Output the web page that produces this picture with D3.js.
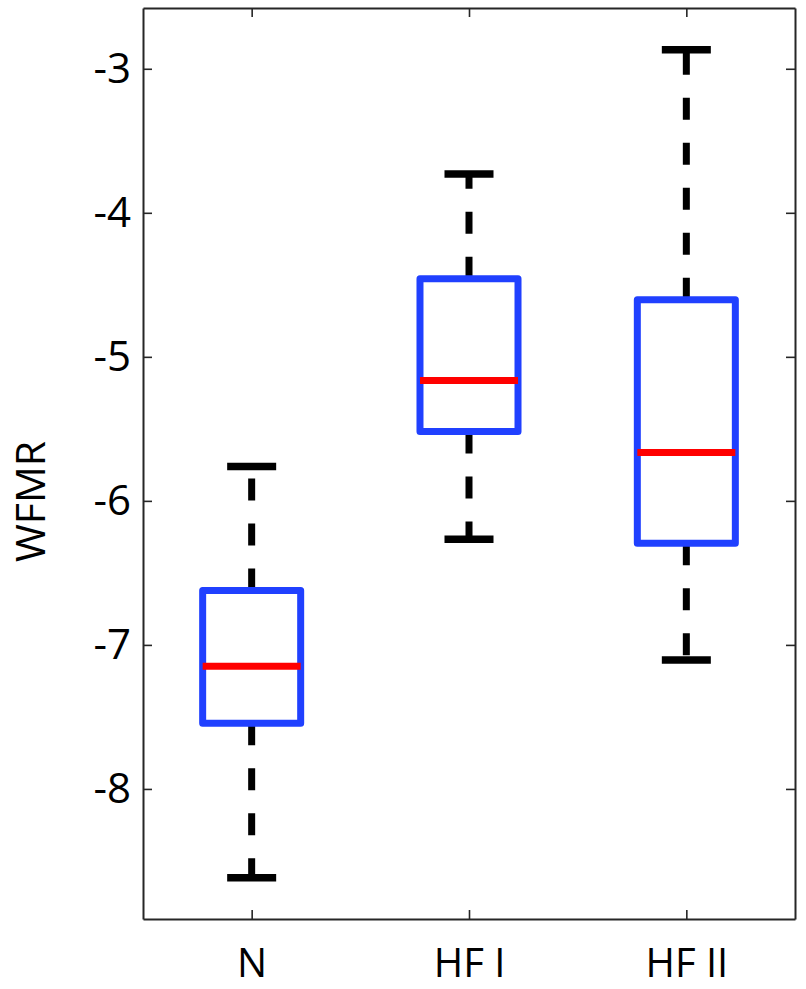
<!DOCTYPE html>
<html>
<head>
<meta charset="utf-8">
<script src="https://cdn.jsdelivr.net/npm/d3@7"></script>
<style>
    body { margin: 0; background: #fff; }
    svg text { font-family: "Open Sans", sans-serif; fill: #000; }
</style>
</head>
<body>
<div id="chart"></div>
<script>
// box plot values
const categories = ["N", "HF I", "HF II"];
const whisker_low = [-8.616, -6.266, -7.104];
const q1 = [-7.544, -5.519, -6.294];
const medians = [-7.148, -5.165, -5.664];
const q3 = [-6.623, -4.458, -4.604];
const whisker_high = [-5.762, -3.731, -2.868];
const y_ticks = [-8, -7, -6, -5, -4, -3];

const width = 806, height = 989;
const margin = {top: 8, right: 11, bottom: 70, left: 143};

const svg = d3.select("#chart")
    .append("svg")
    .attr("width", width)
    .attr("height", height);

const x = d3.scaleLinear()
    .domain([0.5, categories.length + 0.5])
    .range([margin.left, width - margin.right]);

const y = d3.scaleLinear()
    .domain([-8.903, -2.578])
    .range([height - margin.bottom, margin.top]);

const box_half = 0.2255;   // half box width, x units
const cap_half = box_half / 2;

const rows = categories.map(function (c, i) {
    return {
        "i": i + 1,
        "name": c,
        "lo": whisker_low[i],
        "q1": q1[i],
        "med": medians[i],
        "q3": q3[i],
        "hi": whisker_high[i]
    };
});

// axes (ticks point inward on all four sides)
function style_axis(g) {
    g.select(".domain").attr("stroke", "#262626").attr("stroke-width", 2);
    g.selectAll(".tick line").attr("stroke", "#262626").attr("stroke-width", 1.6);
}

svg.append("g")
    .attr("transform", `translate(${margin.left},0)`)
    .call(d3.axisLeft(y).tickValues(y_ticks).tickSizeInner(-9).tickSizeOuter(0).tickPadding(12)
        .tickFormat(function (d) { return String(d); }))
    .call(style_axis)
    .selectAll("text")
    .style("font-size", "42px");

svg.append("g")
    .attr("transform", `translate(${width - margin.right},0)`)
    .call(d3.axisRight(y).tickValues(y_ticks).tickSizeInner(-9).tickSizeOuter(0).tickFormat(""))
    .call(style_axis);

svg.append("g")
    .attr("transform", `translate(0,${margin.top})`)
    .call(d3.axisTop(x).tickValues(rows.map(d => d.i)).tickSizeInner(-9).tickSizeOuter(0).tickFormat(""))
    .call(style_axis);

svg.append("g")
    .attr("transform", `translate(0,${height - margin.bottom})`)
    .call(d3.axisBottom(x).tickValues(rows.map(d => d.i)).tickSizeInner(-9).tickSizeOuter(0)
        .tickFormat(function (d) { return categories[d - 1]; }))
    .call(style_axis)
    .selectAll("text")
    .attr("y", 58)
    .attr("dy", null)
    .style("font-size", "40px");

svg.append("text")
    .attr("transform", `translate(45,${(margin.top + height - margin.bottom) / 2 + 38}) rotate(-90)`)
    .attr("text-anchor", "middle")
    .style("font-size", "41px")
    .text("WFMR");

// whiskers: dashed, drawn out from the box so the dash pattern starts at the box
const whisker = svg.append("g")
    .attr("stroke", "#000")
    .attr("stroke-width", 7)
    .attr("stroke-dasharray", "22,23");

whisker.selectAll("line.up")
    .data(rows)
    .join("line")
    .attr("class", "up")
    .attr("x1", d => x(d.i)).attr("x2", d => x(d.i))
    .attr("y1", d => y(d.q3)).attr("y2", d => y(d.hi));

whisker.selectAll("line.down")
    .data(rows)
    .join("line")
    .attr("class", "down")
    .attr("x1", d => x(d.i)).attr("x2", d => x(d.i))
    .attr("y1", d => y(d.q1)).attr("y2", d => y(d.lo));

// caps
const caps = svg.append("g").attr("stroke", "#000").attr("stroke-width", 7.5);
caps.selectAll("line.cap_hi")
    .data(rows)
    .join("line")
    .attr("class", "cap_hi")
    .attr("x1", d => x(d.i - cap_half)).attr("x2", d => x(d.i + cap_half))
    .attr("y1", d => y(d.hi)).attr("y2", d => y(d.hi));
caps.selectAll("line.cap_lo")
    .data(rows)
    .join("line")
    .attr("class", "cap_lo")
    .attr("x1", d => x(d.i - cap_half)).attr("x2", d => x(d.i + cap_half))
    .attr("y1", d => y(d.lo)).attr("y2", d => y(d.lo));

// boxes
svg.append("g")
    .selectAll("rect")
    .data(rows)
    .join("rect")
    .attr("x", d => x(d.i - box_half))
    .attr("width", d => x(d.i + box_half) - x(d.i - box_half))
    .attr("y", d => y(d.q3))
    .attr("height", d => y(d.q1) - y(d.q3))
    .attr("fill", "none")
    .attr("stroke", "#2040ff")
    .attr("stroke-width", 7)
    .attr("stroke-linejoin", "round");

// medians
svg.append("g")
    .selectAll("line")
    .data(rows)
    .join("line")
    .attr("x1", d => x(d.i - box_half)).attr("x2", d => x(d.i + box_half))
    .attr("y1", d => y(d.med)).attr("y2", d => y(d.med))
    .attr("stroke", "#ff0000")
    .attr("stroke-width", 7);
</script>
</body>
</html>
